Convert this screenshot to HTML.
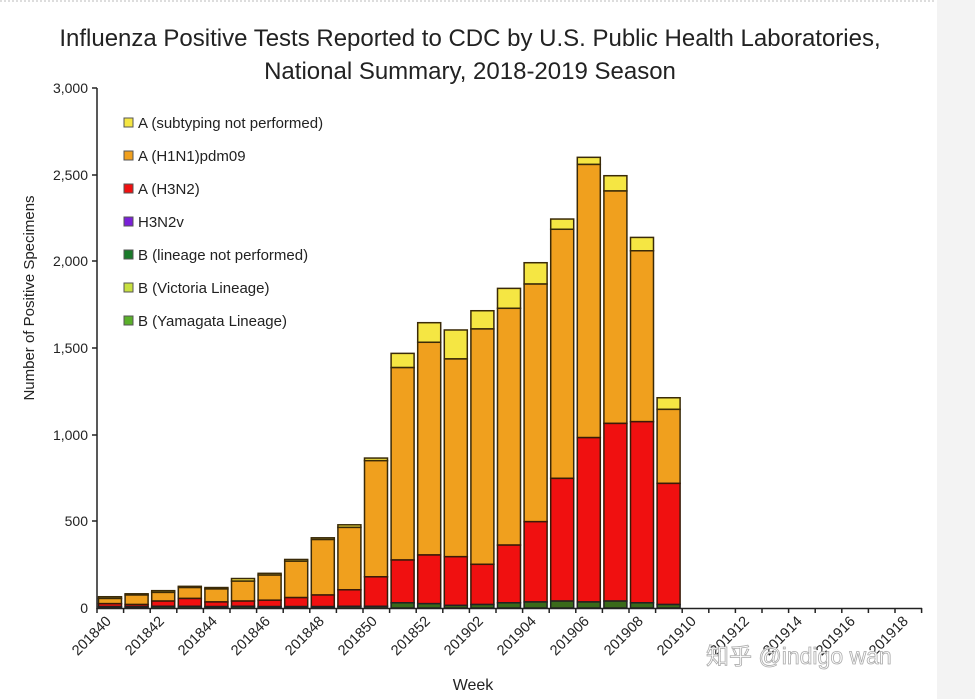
<!DOCTYPE html>
<html><head><meta charset="utf-8"><style>
html,body{margin:0;padding:0;background:#fff;}
svg{display:block;font-family:"Liberation Sans","Noto Sans CJK SC",sans-serif;}
</style></head><body>
<svg id="c" width="975" height="699" viewBox="0 0 975 699">
<rect width="975" height="699" fill="#fff"/>
<rect x="937" y="0" width="38" height="699" fill="#f3f3f3"/>
<line x1="0" y1="1" x2="935" y2="1" stroke="#bbb" stroke-width="1" stroke-dasharray="2,2"/>
<text x="470" y="46" font-size="24" text-anchor="middle" fill="#222">Influenza Positive Tests Reported to CDC by U.S. Public Health Laboratories,</text>
<text x="470" y="79" font-size="24" text-anchor="middle" fill="#222">National Summary, 2018-2019 Season</text>
<g font-size="14" fill="#222" text-anchor="end">
<text x="88" y="93">3,000</text>
<text x="88" y="180">2,500</text>
<text x="88" y="266">2,000</text>
<text x="88" y="353">1,500</text>
<text x="88" y="440">1,000</text>
<text x="88" y="526">500</text>
<text x="88" y="613">0</text>
</g>
<text transform="translate(34,298) rotate(-90)" font-size="15" text-anchor="middle" fill="#222">Number of Positive Specimens</text>
<text x="473" y="690" font-size="16" text-anchor="middle" fill="#222">Week</text>
<g id="bars"></g>
<g stroke="#222" stroke-width="1.5">
<line x1="97" y1="88" x2="97" y2="609"/>
<line x1="97" y1="608.5" x2="922" y2="608.5"/>
<line x1="92" y1="88" x2="97" y2="88"/><line x1="92" y1="175" x2="97" y2="175"/><line x1="92" y1="261" x2="97" y2="261"/><line x1="92" y1="348" x2="97" y2="348"/><line x1="92" y1="435" x2="97" y2="435"/><line x1="92" y1="521" x2="97" y2="521"/>
</g>
<g id="ticks" stroke="#222" stroke-width="1.5"></g>
<g font-size="14.5" fill="#222" text-anchor="end">
<text transform="translate(112,622) rotate(-45)">201840</text>
<text transform="translate(165,622) rotate(-45)">201842</text>
<text transform="translate(218,622) rotate(-45)">201844</text>
<text transform="translate(271,622) rotate(-45)">201846</text>
<text transform="translate(325,622) rotate(-45)">201848</text>
<text transform="translate(378,622) rotate(-45)">201850</text>
<text transform="translate(431,622) rotate(-45)">201852</text>
<text transform="translate(484,622) rotate(-45)">201902</text>
<text transform="translate(537,622) rotate(-45)">201904</text>
<text transform="translate(590,622) rotate(-45)">201906</text>
<text transform="translate(644,622) rotate(-45)">201908</text>
<text transform="translate(697,622) rotate(-45)">201910</text>
<text transform="translate(750,622) rotate(-45)">201912</text>
<text transform="translate(803,622) rotate(-45)">201914</text>
<text transform="translate(856,622) rotate(-45)">201916</text>
<text transform="translate(909,622) rotate(-45)">201918</text>
</g>
<g font-size="15" fill="#222">
<rect x="124" y="118" width="9" height="9" fill="#f5e643" stroke="#555"/><text x="138" y="128">A (subtyping not performed)</text>
<rect x="124" y="151" width="9" height="9" fill="#f0a01e" stroke="#555"/><text x="138" y="161">A (H1N1)pdm09</text>
<rect x="124" y="184" width="9" height="9" fill="#f01010" stroke="#555"/><text x="138" y="194">A (H3N2)</text>
<rect x="124" y="217" width="9" height="9" fill="#7a20d8" stroke="#555"/><text x="138" y="227">H3N2v</text>
<rect x="124" y="250" width="9" height="9" fill="#1a7a2a" stroke="#555"/><text x="138" y="260">B (lineage not performed)</text>
<rect x="124" y="283" width="9" height="9" fill="#c8e040" stroke="#555"/><text x="138" y="293">B (Victoria Lineage)</text>
<rect x="124" y="316" width="9" height="9" fill="#5ab02a" stroke="#555"/><text x="138" y="326">B (Yamagata Lineage)</text>
</g>
<text x="706" y="664" font-size="23" fill="#fff" stroke="#aaa" stroke-width="0.8">知乎 @indigo wan</text>
</svg>
<script>
var d=[[65,55,25,8],[82,75,20,8],[100,90,40,10],[125,118,55,10],[118,110,35,8],[170,155,40,10],[200,190,45,8],[280,270,60,8],[405,395,75,8],[480,465,105,10],[865,850,180,10],
[1469,1387,277,30],[1646,1533,306,25],[1604,1437,296,15],[1715,1610,252,20],[1844,1729,363,30],[1992,1869,498,35],[2244,2185,748,40],[2600,2559,983,35],[2494,2406,1065,40],[2138,2061,1075,30],[1213,1146,719,20]];
var s=520/3000,g=document.getElementById('bars'),h='',t='';
function Y(v){return 608-v*s;}
for(var i=0;i<d.length;i++){var x=97+26.6*i+1.5,w=23,b=d[i];
h+='<rect x="'+x+'" y="'+Y(b[0])+'" width="'+w+'" height="'+(Y(b[1])-Y(b[0]))+'" fill="#f5e643" stroke="#3a2a08" stroke-width="1.5"/>';
h+='<rect x="'+x+'" y="'+Y(b[1])+'" width="'+w+'" height="'+(Y(b[2])-Y(b[1]))+'" fill="#f0a01e" stroke="#3a2a08" stroke-width="1.5"/>';
h+='<rect x="'+x+'" y="'+Y(b[2])+'" width="'+w+'" height="'+(Y(b[3])-Y(b[2]))+'" fill="#f01010" stroke="#3a1a08" stroke-width="1.5"/>';
h+='<rect x="'+x+'" y="'+Y(b[3])+'" width="'+w+'" height="'+(608-Y(b[3]))+'" fill="#3a6a1a" stroke="#222" stroke-width="1.5"/>';}
g.innerHTML=h;
for(var j=0;j<=31;j++){var tx=97+26.6*j;t+='<line x1="'+tx+'" y1="608" x2="'+tx+'" y2="613"/>';}
document.getElementById('ticks').innerHTML=t;
</script>
</body></html>
